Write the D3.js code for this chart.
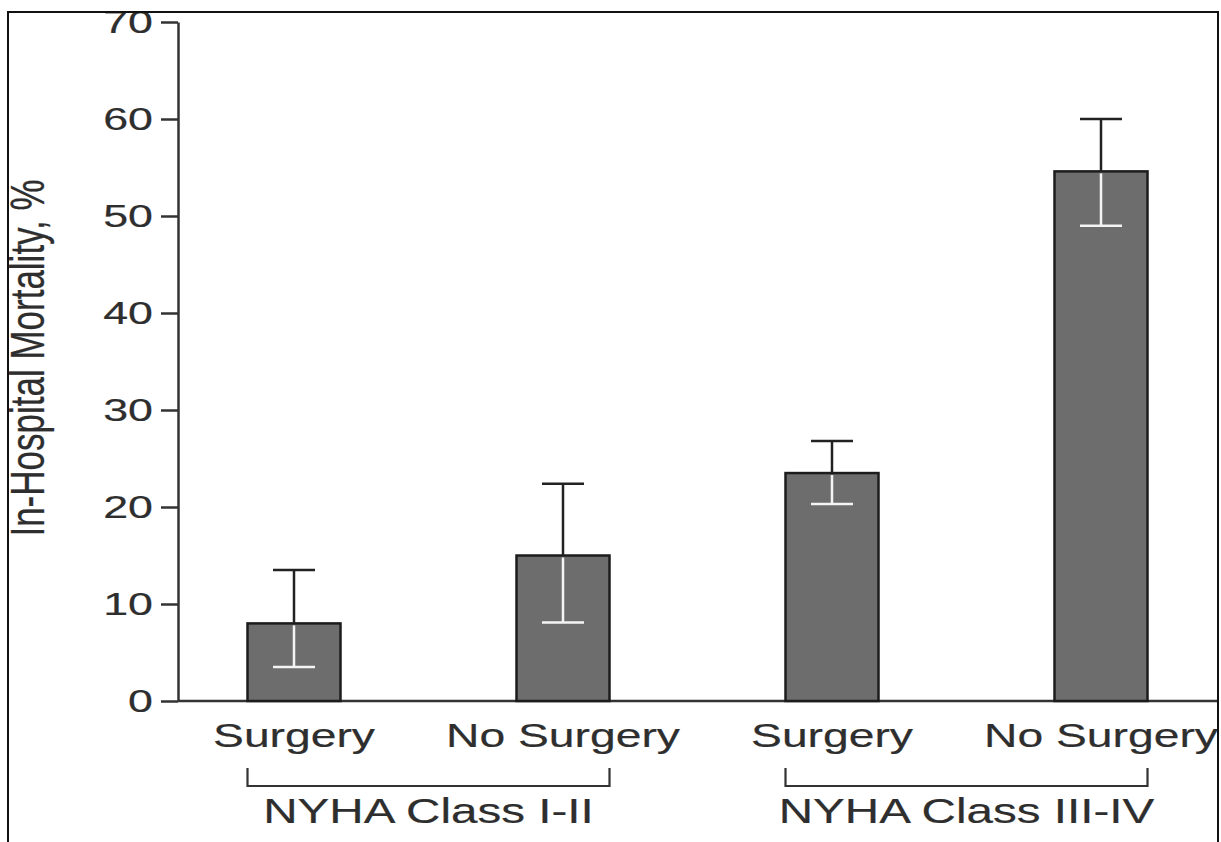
<!DOCTYPE html>
<html>
<head>
<meta charset="utf-8">
<script src="https://cdn.jsdelivr.net/npm/d3@7"></script>
<style>
  html, body { margin: 0; padding: 0; background: #ffffff; }
  svg { display: block; font-family: "Liberation Sans", Arial, sans-serif; }
  svg text { stroke: #2e2e2e; stroke-width: 0.2px; }
</style>
</head>
<body>
<svg id="chart" width="1221" height="842"></svg>
<script>
// In-hospital mortality by NYHA class and treatment
const categories = ["I-II Surgery", "I-II No Surgery", "III-IV Surgery", "III-IV No Surgery"];
const barLabels = ["Surgery", "No Surgery", "Surgery", "No Surgery"];
const mortality = [8.0, 15.0, 23.5, 54.6];
const ciUpper = [13.5, 22.4, 26.8, 60.0];
const ciLower = [3.5, 8.1, 20.3, 49.0];
const groupNames = ["NYHA Class I-II", "NYHA Class III-IV"];
const groupMembers = [[0, 1], [2, 3]];
const yTicks = [0, 10, 20, 30, 40, 50, 60, 70];
const yTitle = "In-Hospital Mortality, %";

const svg = d3.select("#chart");
const textColor = "#2e2e2e";
const sx = 1.36;            // horizontal stretch of lettering

// clip region inside the frame
svg.append("defs").append("clipPath").attr("id", "frameClip")
  .append("rect").attr("x", 9).attr("y", 13).attr("width", 1208).attr("height", 840);

const g = svg.append("g").attr("clip-path", "url(#frameClip)");

const axisX = 178;
const y = d3.scaleLinear().domain([0, 70]).range([701, 22]);
const x = d3.scalePoint().domain(categories).range([294, 1101]);
const barW = 93;
const capW = 42;

// y axis
const yAxis = g.append("g")
  .attr("transform", `translate(${axisX},0)`)
  .call(d3.axisLeft(y).tickValues(yTicks).tickSize(17).tickSizeOuter(0));
yAxis.select(".domain").attr("stroke", "#333").attr("stroke-width", 2.5);
yAxis.selectAll(".tick line").attr("stroke", "#333").attr("stroke-width", 2.5);
yAxis.selectAll(".tick text")
  .attr("x", null)
  .attr("dy", "0.32em")
  .attr("transform", "translate(-25,0) scale(1.4,1)")
  .attr("fill", textColor)
  .style("font-size", "32px")
  .style("font-family", "'Liberation Sans', Arial, sans-serif");

// x baseline
g.append("line")
  .attr("x1", axisX).attr("x2", 1221)
  .attr("y1", y(0)).attr("y2", y(0))
  .attr("stroke", "#333").attr("stroke-width", 2.5);

// bars
g.selectAll("rect.bar").data(categories).join("rect")
  .attr("class", "bar")
  .attr("x", d => x(d) - barW / 2)
  .attr("width", barW)
  .attr("y", (d, i) => y(mortality[i]))
  .attr("height", (d, i) => y(0) - y(mortality[i]))
  .attr("fill", "#6d6d6d")
  .attr("stroke", "#1c1c1c")
  .attr("stroke-width", 2.5);

// upper error whiskers (dark, above the bar)
const upper = g.selectAll("g.up").data(categories).join("g").attr("class", "up");
upper.append("line")
  .attr("x1", d => x(d)).attr("x2", d => x(d))
  .attr("y1", (d, i) => y(mortality[i])).attr("y2", (d, i) => y(ciUpper[i]))
  .attr("stroke", "#222").attr("stroke-width", 2.5);
upper.append("line")
  .attr("x1", d => x(d) - capW / 2).attr("x2", d => x(d) + capW / 2)
  .attr("y1", (d, i) => y(ciUpper[i])).attr("y2", (d, i) => y(ciUpper[i]))
  .attr("stroke", "#222").attr("stroke-width", 2.5);

// lower error whiskers (white, inside the bar)
const lower = g.selectAll("g.low").data(categories).join("g").attr("class", "low");
lower.append("line")
  .attr("x1", d => x(d)).attr("x2", d => x(d))
  .attr("y1", (d, i) => y(mortality[i]) + 2).attr("y2", (d, i) => y(ciLower[i]))
  .attr("stroke", "#f4f4f4").attr("stroke-width", 2.5);
lower.append("line")
  .attr("x1", d => x(d) - capW / 2).attr("x2", d => x(d) + capW / 2)
  .attr("y1", (d, i) => y(ciLower[i])).attr("y2", (d, i) => y(ciLower[i]))
  .attr("stroke", "#f4f4f4").attr("stroke-width", 2.5);

// category labels
g.selectAll("text.cat").data(categories).join("text")
  .attr("class", "cat")
  .attr("transform", d => `translate(${x(d)},747) scale(${sx},1)`)
  .attr("text-anchor", "middle")
  .attr("fill", textColor)
  .style("font-size", "34px")
  .text((d, i) => barLabels[i]);

// group brackets and names
const brackets = g.selectAll("g.grp").data(groupNames).join("g").attr("class", "grp");
brackets.append("path")
  .attr("d", (d, i) => {
    const x0 = x(categories[groupMembers[i][0]]) - barW / 2;
    const x1 = x(categories[groupMembers[i][1]]) + barW / 2;
    return `M${x0},768 V786 H${x1} V768`;
  })
  .attr("fill", "none").attr("stroke", "#333").attr("stroke-width", 2.2);
brackets.append("text")
  .attr("transform", (d, i) => {
    const cx = (x(categories[groupMembers[i][0]]) + x(categories[groupMembers[i][1]])) / 2;
    return `translate(${cx},823) scale(${sx},1)`;
  })
  .attr("text-anchor", "middle")
  .attr("fill", textColor)
  .style("font-size", "35px")
  .text(d => d);

// y axis title
g.append("text")
  .attr("transform", `translate(44,358) scale(${sx},1) rotate(-90)`)
  .attr("text-anchor", "middle")
  .attr("fill", textColor)
  .style("font-size", "35px")
  .text(yTitle);

// outer frame
svg.append("rect")
  .attr("x", 8).attr("y", 12).attr("width", 1210).attr("height", 860)
  .attr("fill", "none").attr("stroke", "#111").attr("stroke-width", 2);
</script>
</body>
</html>
